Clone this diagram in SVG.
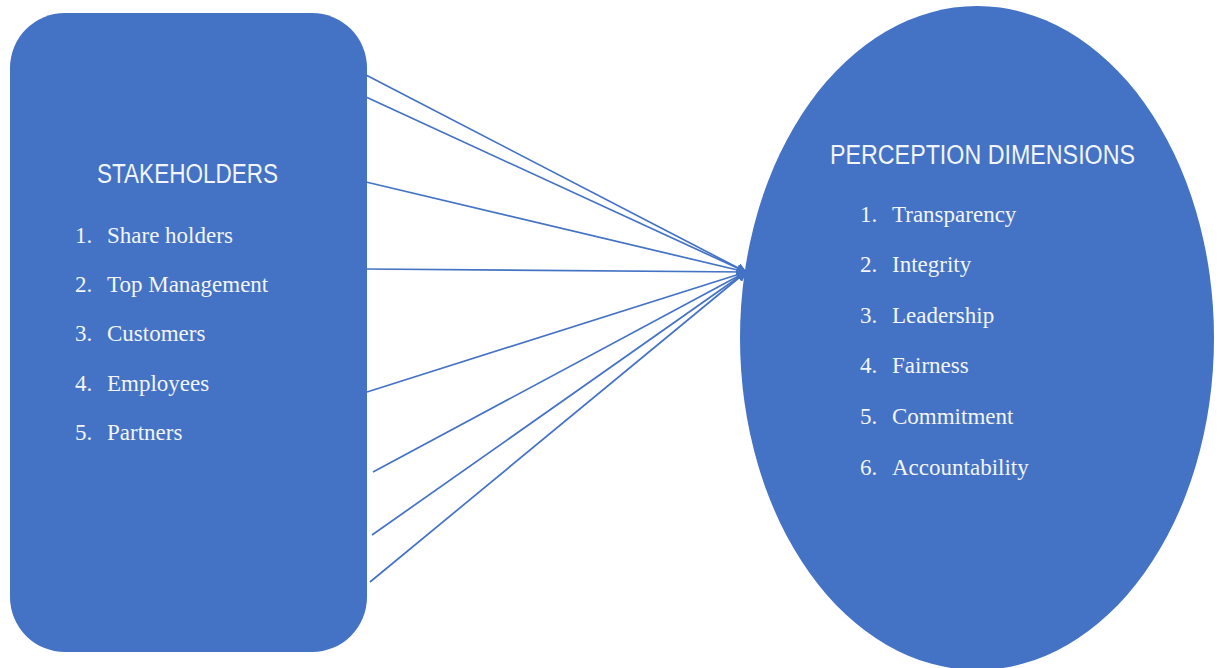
<svg xmlns="http://www.w3.org/2000/svg" width="1221" height="668" viewBox="0 0 1221 668">
<style>
.shape{fill:#4472C4;}
.conn{stroke:#4472C4;stroke-width:1.7;fill:none;marker-end:url(#ah);}
.title{font-family:"Liberation Sans",Arial,sans-serif;font-size:27px;fill:#F2F5FB;}
.item{font-family:"Liberation Serif","Times New Roman",serif;font-size:23px;fill:#F2F5FB;}
</style>
<defs>
<marker id="ah" viewBox="0 0 10 10" refX="9" refY="5" markerWidth="10" markerHeight="10" markerUnits="userSpaceOnUse" orient="auto">
<path d="M0,0 L10,5 L0,10 z" fill="#4472C4"/>
</marker>
</defs>
<rect width="1221" height="668" fill="#FFFFFF"/>
<g id="stakeholders">
<rect class="shape" x="10" y="13" width="357" height="639" rx="55" ry="55"/>
<text class="title" x="97" y="183" textLength="181" lengthAdjust="spacingAndGlyphs">STAKEHOLDERS</text>
<text class="item" x="75" y="243">1.</text><text class="item" x="107" y="243">Share holders</text>
<text class="item" x="75" y="292">2.</text><text class="item" x="107" y="292">Top Management</text>
<text class="item" x="75" y="341">3.</text><text class="item" x="107" y="341">Customers</text>
<text class="item" x="75" y="391">4.</text><text class="item" x="107" y="391">Employees</text>
<text class="item" x="75" y="440">5.</text><text class="item" x="107" y="440">Partners</text>
</g>
<g id="perception">
<ellipse class="shape" cx="977" cy="338" rx="237" ry="332"/>
<text class="title" x="830" y="164" textLength="305" lengthAdjust="spacingAndGlyphs">PERCEPTION DIMENSIONS</text>
<text class="item" x="860" y="222">1.</text><text class="item" x="892" y="222">Transparency</text>
<text class="item" x="860" y="272">2.</text><text class="item" x="892" y="272">Integrity</text>
<text class="item" x="860" y="323">3.</text><text class="item" x="892" y="323">Leadership</text>
<text class="item" x="860" y="373">4.</text><text class="item" x="892" y="373">Fairness</text>
<text class="item" x="860" y="424">5.</text><text class="item" x="892" y="424">Commitment</text>
<text class="item" x="860" y="475">6.</text><text class="item" x="892" y="475">Accountability</text>
</g>
<g id="connectors">
<line class="conn" x1="366" y1="75" x2="746" y2="272"/>
<line class="conn" x1="366" y1="97" x2="746" y2="272"/>
<line class="conn" x1="366" y1="182" x2="746" y2="272"/>
<line class="conn" x1="366" y1="269" x2="746" y2="272"/>
<line class="conn" x1="367" y1="392" x2="746" y2="272"/>
<line class="conn" x1="373" y1="472" x2="746" y2="272"/>
<line class="conn" x1="372" y1="535" x2="746" y2="272"/>
<line class="conn" x1="370" y1="582" x2="746" y2="272"/>
</g>
</svg>
